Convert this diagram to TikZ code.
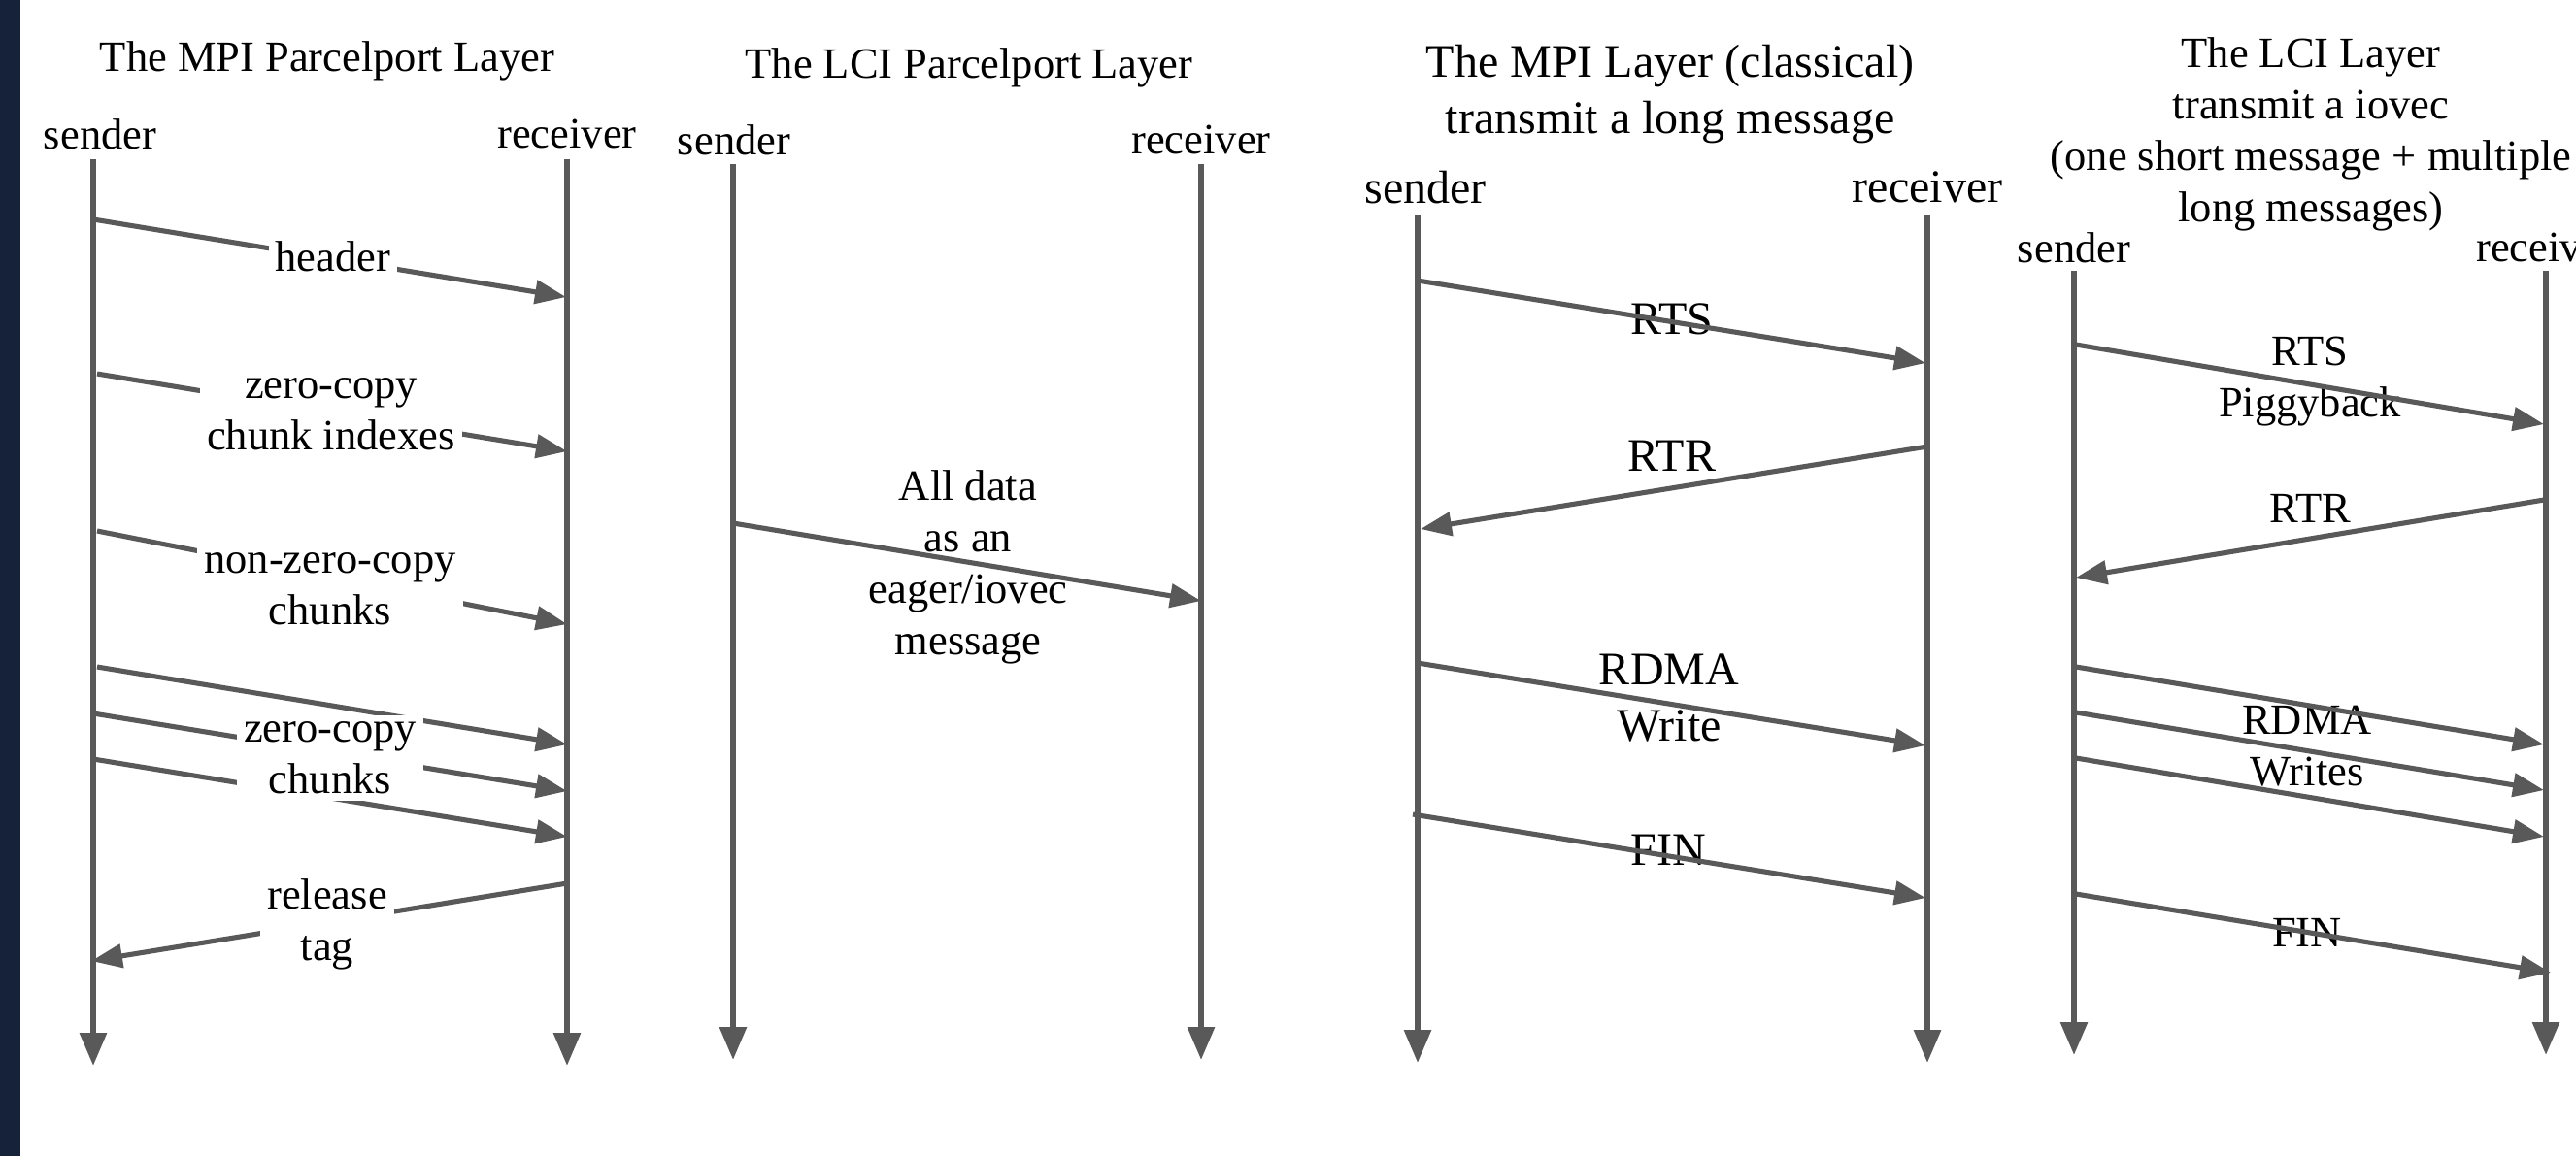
\documentclass[tikz,border=0pt]{standalone}
\usepackage{fontspec}
\setmainfont{Liberation Serif}
\usetikzlibrary{arrows.meta}
\definecolor{lnc}{HTML}{595959}
\definecolor{barc}{HTML}{16213A}
\tikzset{
  life/.style={lnc, line width=1.7pt, -{Triangle[length=0.34cm, width=0.27cm]}},
  msg/.style={lnc, line width=1.45pt, -{Triangle[length=0.32cm, width=0.24cm]}},
  txt/.style={align=center, inner sep=1pt, font=\fontsize{12.66}{15.1}\selectfont},
  bigtxt/.style={align=center, inner sep=1pt, font=\fontsize{13.66}{16.3}\selectfont},
  lbl/.style={txt, fill=white, inner sep=2pt}
}
\begin{document}
\begin{tikzpicture}[x=1cm, y=-1cm]
    \useasboundingbox (0,0) rectangle (26.53,11.91);
    \clip (0,0) rectangle (26.53,11.91);
    \fill[barc] (0,0) rectangle (0.21,11.91);
    \node[txt] (t1) at (3.37,0.63) {The MPI Parcelport Layer};
    \node[txt] (snd1) at (1.03,1.38) {sender};
    \node[txt] (rcv1) at (5.84,1.38) {receiver};
    \coordinate (s1a) at (0.96,1.64); \coordinate (s1b) at (0.96,10.98);
    \coordinate (r1a) at (5.84,1.64); \coordinate (r1b) at (5.84,10.98);
    \draw[life] (s1a) -- (s1b);
    \draw[life] (r1a) -- (r1b);
    \coordinate (hda) at (0.96,2.26); \coordinate (hdb) at (5.83,3.06);
    \draw[msg] (hda) -- (hdb);
    \coordinate (cia) at (1.00,3.85); \coordinate (cib) at (5.84,4.65);
    \draw[msg] (cia) -- (cib);
    \coordinate (nza) at (1.00,5.47); \coordinate (nzb) at (5.84,6.43);
    \draw[msg] (nza) -- (nzb);
    \foreach \i/\xa/\ya/\yb in {1/1.00/6.87/7.67, 2/0.96/7.35/8.15, 3/0.96/7.82/8.62}{
      \coordinate (zca\i) at (\xa,\ya);
      \coordinate (zcb\i) at (5.84,\yb);
      \draw[msg] (zca\i) -- (zcb\i);
    }
    \coordinate (rta) at (5.84,9.10); \coordinate (rtb) at (0.94,9.90);
    \draw[msg] (rta) -- (rtb);
    \node[lbl] (hdr) at (3.43,2.64) {header};
    \node[lbl] (zci) at (3.41,4.27) {zero-copy\\chunk indexes};
    \node[lbl] (nzc) at (3.40,6.07) {non-zero-copy\\chunks};
    \node[lbl] (zcc) at (3.40,7.81) {zero-copy\\chunks};
    \node[lbl] (rel) at (3.37,9.52) {release\\tag};

    \node[txt] (t2) at (9.98,0.70) {The LCI Parcelport Layer};
    \node[txt] (snd2) at (7.56,1.44) {sender};
    \node[txt] (rcv2) at (12.37,1.44) {receiver};
    \coordinate (s2a) at (7.55,1.69); \coordinate (s2b) at (7.55,10.92);
    \coordinate (r2a) at (12.37,1.69); \coordinate (r2b) at (12.37,10.92);
    \draw[life] (s2a) -- (s2b);
    \draw[life] (r2a) -- (r2b);
    \node[txt] (eag) at (9.97,5.84) {All data\\as an\\eager/iovec\\message};
    \coordinate (eaa) at (7.55,5.39); \coordinate (eab) at (12.37,6.19);
    \draw[msg] (eaa) -- (eab);

    \node[bigtxt] (t3) at (17.20,0.97) {The MPI Layer (classical)\\transmit a long message};
    \node[bigtxt] (snd3) at (14.68,1.93) {sender};
    \node[bigtxt] (rcv3) at (19.85,1.93) {receiver};
    \coordinate (s3a) at (14.60,2.22); \coordinate (s3b) at (14.60,10.95);
    \coordinate (r3a) at (19.85,2.22); \coordinate (r3b) at (19.85,10.95);
    \draw[life] (s3a) -- (s3b);
    \draw[life] (r3a) -- (r3b);
    \node[bigtxt] (rts3) at (17.22,3.29) {RTS};
    \node[bigtxt] (rtr3) at (17.22,4.70) {RTR};
    \node[bigtxt] (wr3) at (17.19,7.19) {RDMA\\Write};
    \node[bigtxt] (fin3) at (17.18,8.76) {FIN};
    \coordinate (q1a) at (14.60,2.89); \coordinate (q1b) at (19.83,3.74);
    \coordinate (q2a) at (19.85,4.60); \coordinate (q2b) at (14.63,5.45);
    \coordinate (q3a) at (14.60,6.83); \coordinate (q3b) at (19.83,7.68);
    \coordinate (q4a) at (14.55,8.39); \coordinate (q4b) at (19.83,9.25);
    \draw[msg] (q1a) -- (q1b);
    \draw[msg] (q2a) -- (q2b);
    \draw[msg] (q3a) -- (q3b);
    \draw[msg] (q4a) -- (q4b);

    \node[txt] (t4) at (23.80,1.38)
      {The LCI Layer\\transmit a iovec\\(one short message + multiple\\long messages)};
    \node[txt] (snd4) at (21.36,2.55) {sender};
    \node[txt] (rcv4) at (26.22,2.55) {receiver};
    \coordinate (s4a) at (21.36,2.79); \coordinate (s4b) at (21.36,10.87);
    \coordinate (r4a) at (26.22,2.79); \coordinate (r4b) at (26.22,10.87);
    \draw[life] (s4a) -- (s4b);
    \draw[life] (r4a) -- (r4b);
    \node[txt] (rts4) at (23.79,3.93) {RTS\\Piggyback};
    \node[txt] (rtr4) at (23.79,5.24) {RTR};
    \node[txt] (wr4) at (23.76,7.69) {RDMA\\Writes};
    \node[txt] (fin4) at (23.76,9.61) {FIN};
    \coordinate (p1a) at (21.38,3.55); \coordinate (p1b) at (26.20,4.37);
    \coordinate (p2a) at (26.20,5.15); \coordinate (p2b) at (21.38,5.95);
    \draw[msg] (p1a) -- (p1b);
    \draw[msg] (p2a) -- (p2b);
    \foreach \i/\ya/\yb in {1/6.87/7.67, 2/7.34/8.14, 3/7.81/8.62}{
      \coordinate (wa\i) at (21.38,\ya);
      \coordinate (wb\i) at (26.20,\yb);
      \draw[msg] (wa\i) -- (wb\i);
    }
    \coordinate (p3a) at (21.38,9.21); \coordinate (p3b) at (26.27,10.02);
    \draw[msg] (p3a) -- (p3b);
\end{tikzpicture}
\end{document}
